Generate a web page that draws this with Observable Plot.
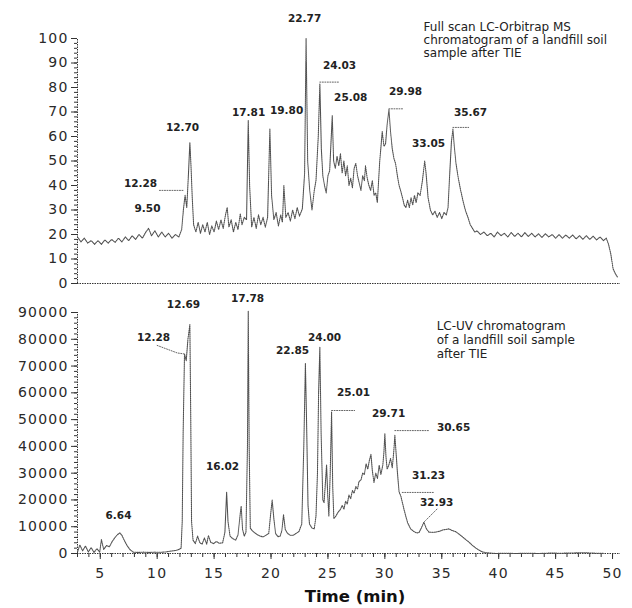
<!DOCTYPE html>
<html><head><meta charset="utf-8">
<script src="https://cdn.jsdelivr.net/npm/d3@7"></script>
<script src="https://cdn.jsdelivr.net/npm/@observablehq/plot@0.6"></script>
<style>
body{margin:0;background:#fff;}
#chart svg{display:block;}
g[aria-label$="tick label"] text{letter-spacing:1.2px;}
g[aria-label="note"] text{letter-spacing:0.7px;}
</style></head><body><div id="chart"></div><script>
// ---------- DATA ----------
const timeTicks = [5,10,15,20,25,30,35,40,45,50];
const msYTicks = [0,10,20,30,40,50,60,70,80,90,100];
const uvYTicks = [0,10000,20000,30000,40000,50000,60000,70000,80000,90000];

// Full-scan LC-Orbitrap MS trace: [time (min), relative abundance]
const msTrace = [
[3.0,19],[3.3,17],[3.6,18.5],[3.9,16.5],[4.2,17.5],[4.5,16],[4.8,17.5],[5.1,16],[5.4,17.8],[5.7,16.5],
[6.0,18],[6.3,16.8],[6.6,18.5],[6.9,17],[7.2,19],[7.5,17.5],[7.8,19.5],[8.1,18],[8.4,20],[8.7,18.5],
[9.0,21],[9.25,22.5],[9.5,19.5],[9.8,21.5],[10.1,19],[10.4,21],[10.7,19],[11.0,20.5],[11.3,18.5],[11.6,20],
[11.9,19],[12.15,22],[12.3,30],[12.45,36],[12.6,31],[12.75,45],[12.87,57.5],[12.97,48],[13.08,35],[13.2,24],
[13.4,21],[13.6,25],[13.8,20.5],[14.0,24],[14.2,21],[14.4,25],[14.6,20],[14.8,23.5],[15.0,21],[15.2,25.5],
[15.4,22],[15.6,26],[15.8,22.5],[16.0,28],[16.15,31],[16.3,23],[16.5,26],[16.7,21],[16.9,25],[17.1,22],
[17.3,28.5],[17.45,24],[17.65,27],[17.85,26],[18.0,66.5],[18.12,40],[18.3,23],[18.5,27],[18.7,22.5],[18.9,28],
[19.1,24],[19.3,27],[19.5,23],[19.7,27],[19.9,63],[20.05,36],[20.25,26],[20.45,29],[20.65,23.5],[20.85,28],
[21.0,25],[21.13,40],[21.3,27],[21.5,29],[21.7,25.5],[21.9,30],[22.1,26.5],[22.3,31],[22.5,27.5],[22.75,30.5],
[22.95,45],[23.08,100],[23.22,50],[23.4,38],[23.6,30],[23.8,38],[23.95,42],[24.15,60],[24.29,81.5],[24.42,55],
[24.55,44],[24.7,40],[24.85,37],[25.0,44],[25.15,46],[25.38,68.5],[25.5,50],[25.65,47],[25.8,52],[25.95,48],
[26.1,53],[26.25,45],[26.4,50],[26.55,44],[26.7,48],[26.85,40],[27.0,43],[27.15,39],[27.3,47],[27.45,49],
[27.6,44],[27.75,41],[27.9,38],[28.05,44],[28.2,42],[28.3,48],[28.45,43],[28.6,40],[28.75,38],[28.9,42],
[29.05,36],[29.2,37],[29.34,33],[29.55,50],[29.77,62],[29.92,56],[30.06,57],[30.2,65],[30.36,71],[30.5,62],
[30.65,55],[30.8,51],[30.94,49],[31.1,44],[31.25,40],[31.38,38],[31.55,35],[31.7,32],[31.85,31],[32.0,34],
[32.15,31],[32.3,35],[32.45,32],[32.6,36],[32.75,33],[32.9,37],[33.1,36],[33.3,42],[33.5,50],[33.62,45],
[33.8,35],[34.0,30],[34.2,28],[34.4,29.5],[34.6,27],[34.8,29],[35.0,26.5],[35.2,29],[35.4,28],[35.55,31],
[35.7,45],[35.85,58],[35.98,63],[36.1,56],[36.25,49],[36.45,43],[36.66,38],[36.9,33],[37.1,29.5],[37.3,27],
[37.5,24],[37.7,22.5],[37.9,21],[38.1,21.5],[38.4,20],[38.7,21],[39.0,19.5],[39.3,20.5],[39.6,19],[39.9,21],
[40.2,19.5],[40.5,20.5],[40.8,19],[41.1,20.8],[41.4,19.2],[41.7,20.5],[42.0,19],[42.3,20.8],[42.6,19.2],[42.9,20.5],
[43.2,19],[43.5,20.3],[43.8,18.8],[44.1,20.3],[44.4,19],[44.7,20],[45.0,18.5],[45.3,20],[45.6,18.5],[45.9,19.8],
[46.2,18.5],[46.5,19.8],[46.8,18.2],[47.1,19.5],[47.4,18],[47.7,19.5],[48.0,18],[48.3,19.3],[48.6,17.8],[48.9,19],
[49.2,17.5],[49.45,18.5],[49.65,16],[49.85,12],[50.05,6],[50.25,4],[50.45,2.5]
];

// LC-UV trace: [time (min), absorbance units]
const uvTrace = [
[3.0,500],[3.2,3200],[3.45,1000],[3.7,2800],[3.95,600],[4.2,2200],[4.45,400],[4.7,1800],[4.95,500],[5.1,5200],
[5.3,1500],[5.55,3000],[5.8,2500],[6.05,4500],[6.3,6000],[6.5,7000],[6.72,7700],[6.9,6800],[7.1,5000],[7.35,3000],
[7.6,1500],[7.9,500],[8.3,400],[8.8,500],[9.3,400],[9.8,500],[10.3,450],[10.8,600],[11.2,900],[11.6,1100],
[11.9,1500],[12.1,2000],[12.2,12000],[12.28,45000],[12.4,74500],[12.55,72000],[12.7,80000],[12.87,85500],[12.95,50000],[13.02,12000],
[13.15,5000],[13.35,3700],[13.55,6500],[13.75,4000],[13.95,3500],[14.15,5800],[14.35,3500],[14.5,6700],[14.7,4200],[14.95,3700],
[15.2,4500],[15.45,3800],[15.75,4000],[15.95,8000],[16.1,23000],[16.22,12000],[16.4,6500],[16.65,5500],[16.9,5000],[17.1,7000],
[17.3,15000],[17.38,17700],[17.5,9000],[17.65,6500],[17.8,8000],[17.93,40000],[18.0,90500],[18.08,40000],[18.18,9500],[18.35,8500],
[18.55,7800],[18.8,7000],[19.05,6500],[19.3,6200],[19.55,6800],[19.8,7500],[19.95,14000],[20.1,20000],[20.25,13000],[20.4,7500],
[20.6,6300],[20.8,6500],[20.95,8500],[21.1,14500],[21.25,9000],[21.45,7500],[21.7,6800],[21.95,6800],[22.2,7500],[22.45,8200],
[22.7,11000],[22.88,40000],[23.02,71000],[23.12,50000],[23.25,18000],[23.38,11000],[23.6,9500],[23.8,9200],[23.95,14000],[24.08,30000],
[24.18,60000],[24.29,77000],[24.4,45000],[24.55,20000],[24.66,19000],[24.8,28000],[24.88,33000],[24.98,22000],[25.08,14000],[25.2,30000],
[25.32,52800],[25.42,25000],[25.52,13000],[25.7,14000],[25.9,15500],[26.1,16500],[26.26,18000],[26.4,16500],[26.55,19500],[26.7,18500],
[26.84,21800],[27.0,20500],[27.15,23500],[27.3,22500],[27.45,25000],[27.6,24000],[27.72,26800],[27.9,27500],[28.05,30000],[28.2,29500],
[28.35,33500],[28.5,31500],[28.65,35000],[28.78,37000],[28.9,31000],[29.04,26500],[29.2,30000],[29.35,28000],[29.5,33000],[29.65,29500],
[29.82,33000],[29.92,38000],[30.0,44700],[30.1,36000],[30.2,31500],[30.35,33000],[30.5,35500],[30.65,32000],[30.78,38000],[30.88,44100],
[30.98,38000],[31.1,30500],[31.25,23000],[31.4,21500],[31.53,19200],[31.68,16500],[31.82,14200],[32.0,11500],[32.26,9200],[32.55,8200],
[32.8,7700],[33.0,7800],[33.2,9500],[33.43,11700],[33.65,9200],[33.87,8000],[34.2,7900],[34.5,8000],[34.8,8300],[35.1,8800],
[35.4,9000],[35.63,9200],[35.9,8600],[36.2,8200],[36.5,7300],[36.8,6300],[37.1,5200],[37.4,4200],[37.7,3000],[38.0,2000],
[38.3,1200],[38.56,600],[38.9,300],[39.3,150],[39.7,0],[40.5,100],[41.5,0],[42.5,100],[43.5,0],[44.5,150],
[45.5,100],[46.5,200],[47.5,300],[48.0,200],[48.6,100],[49.2,50]
];

// Peak labels: text, anchor time, anchor value
const msPeakText  = ["22.77","12.70","12.28","9.50","17.81","19.80","24.03","25.08","29.98","33.05","35.67"];
const msPeakTime  = [22.95,12.23,8.54,9.15,18.03,21.37,26.02,27.0,31.82,33.84,37.53];
const msPeakValue = [108.2,63.7,40.8,30.6,69.8,70.6,89,75.9,78.4,57.1,69.8];

const uvPeakText  = ["6.64","12.28","12.69","16.02","17.78","22.85","24.00","25.01","29.71","30.65","31.23","32.93"];
const uvPeakTime  = [6.6,9.68,12.31,15.74,17.94,21.89,24.7,27.25,30.33,36.04,33.84,34.55];
const uvPeakValue = [14200,80700,93000,32500,95200,75800,80700,60100,52300,47100,29100,19000];

// Leader lines joining peaks to their labels
const msLeaders = [
  [[10.2,38],[12.3,38]],
  [[24.29,82.2],[25.93,82.2]],
  [[30.36,71.3],[31.65,71.3]],
  [[35.98,63.7],[37.36,63.7]]
];
const uvLeaders = [
  [[10.0,77700],[11.76,74900],[12.4,74500]],
  [[25.32,53400],[27.34,53400]],
  [[30.88,45900],[33.84,45900]],
  [[31.53,22800],[34.28,22800]],
  [[33.43,11700],[34.63,16800]]
];

const msNote = "Full scan LC-Orbitrap MS\nchromatogram of a landfill soil\nsample after TIE";
const msNoteAt = [33.4, 99.6];
const uvNote = "LC-UV chromatogram\nof a landfill soil sample\nafter TIE";
const uvNoteAt = [34.55, 79900];
const xTitle = "Time (min)";

// ---------- CHART ----------
const X_DOMAIN = [3, 50.7];
const INK = "#333";
const toPts = a => a.map(([t, v]) => ({t, v}));
const toLeaders = L => L.flatMap((seg, i) => seg.map(([t, v]) => ({id: i, t, v})));
const peaks = (txt, tm, vl) => txt.map((s, i) => ({label: s, t: tm[i], v: vl[i]}));
const baseStyle = {fontFamily: "DejaVu Sans", fontSize: "14px", color: "#2a2a2a", background: "#fff", overflow: "visible"};
const traceOpts = {x: "t", y: "v", stroke: "#505050", strokeWidth: 1.1, strokeDasharray: "1 1"};
const leaderOpts = {x: "t", y: "v", z: "id", stroke: "#666", strokeWidth: 1, strokeDasharray: "1 1.5"};
const labelOpts = {x: "t", y: "v", text: "label", fontWeight: "bold", fontSize: 10.5, fill: "#222"};

const msChart = Plot.plot({
  width: 632, height: 295,
  marginLeft: 77, marginRight: 12, marginTop: 38, marginBottom: 12,
  x: {domain: X_DOMAIN, axis: null},
  y: {domain: [0, 100], axis: null},
  style: baseStyle,
  marks: [
    Plot.axisY({ticks: d3.range(0, 101, 2), tickSize: 3, tickFormat: () => "", label: null, stroke: INK}),
    Plot.axisY({ticks: msYTicks, tickSize: 6, tickPadding: 3, label: null, stroke: INK, fontSize: 14}),
    Plot.ruleX([X_DOMAIN[0]], {y1: 0, y2: 100, stroke: INK, strokeDasharray: "1.5 1"}),
    Plot.ruleY([0], {x1: X_DOMAIN[0], x2: X_DOMAIN[1], stroke: INK, strokeDasharray: "1.5 1"}),
    Plot.line(toPts(msTrace), traceOpts),
    Plot.line(toLeaders(msLeaders), leaderOpts),
    Plot.text(peaks(msPeakText, msPeakTime, msPeakValue), labelOpts),
    Plot.text([msNote], {x: msNoteAt[0], y: msNoteAt[1], text: d => d, textAnchor: "start", lineAnchor: "middle", lineHeight: 1.08, fontSize: 12, fill: "#222", ariaLabel: "note"})
  ]
});

const uvChart = Plot.plot({
  width: 632, height: 313,
  marginLeft: 77, marginRight: 12, marginTop: 17, marginBottom: 55,
  x: {domain: X_DOMAIN, axis: null},
  y: {domain: [0, 90000], axis: null},
  style: baseStyle,
  marks: [
    Plot.axisY({ticks: d3.range(0, 90001, 2000), tickSize: 3, tickFormat: () => "", label: null, stroke: INK}),
    Plot.axisY({ticks: uvYTicks, tickSize: 6, tickPadding: 3, tickFormat: d3.format("d"), label: null, stroke: INK, fontSize: 14}),
    Plot.axisX({ticks: d3.range(3, 51), tickSize: 4, tickFormat: () => "", label: null, stroke: INK}),
    Plot.axisX({ticks: timeTicks, tickSize: 6, tickPadding: 9, label: null, stroke: INK, fontSize: 14}),
    Plot.ruleX([X_DOMAIN[0]], {y1: 0, y2: 90000, stroke: INK, strokeDasharray: "1.5 1"}),
    Plot.ruleY([0], {x1: X_DOMAIN[0], x2: X_DOMAIN[1], stroke: INK, strokeDasharray: "1.5 1"}),
    Plot.line(toPts(uvTrace), traceOpts),
    Plot.line(toLeaders(uvLeaders), leaderOpts),
    Plot.text(peaks(uvPeakText, uvPeakTime, uvPeakValue), labelOpts),
    Plot.text([uvNote], {x: uvNoteAt[0], y: uvNoteAt[1], text: d => d, textAnchor: "start", lineAnchor: "middle", lineHeight: 1.17, fontSize: 12, fill: "#222", ariaLabel: "note"}),
    Plot.text([xTitle], {frameAnchor: "bottom", dx: 6, dy: 43, lineAnchor: "middle", fontWeight: "bold", fontSize: 16.5, fill: "#111"})
  ]
});

document.getElementById("chart").append(msChart, uvChart);
</script></body></html>
